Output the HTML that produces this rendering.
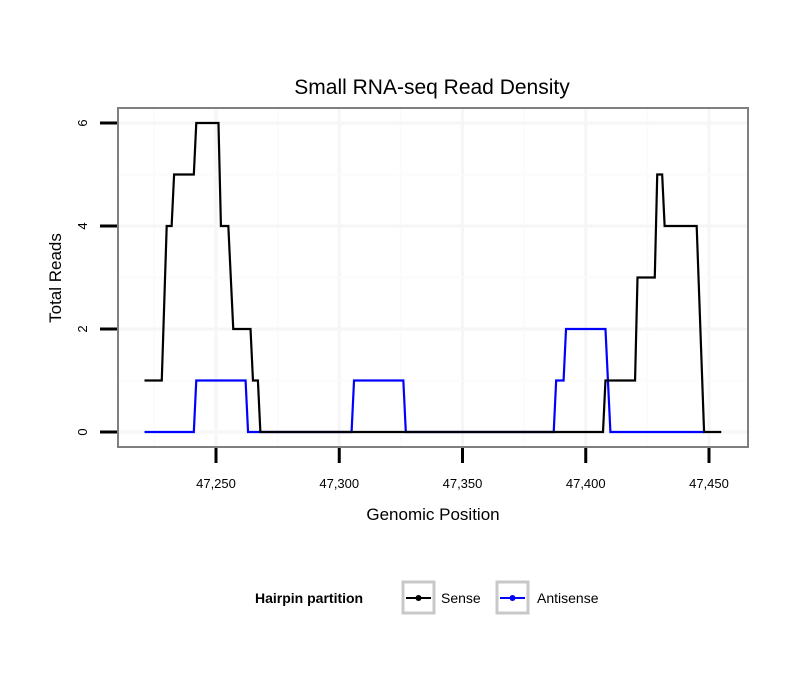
<!DOCTYPE html>
<html><head><meta charset="utf-8"><style>body{margin:0;background:#fff}svg{display:block;font-family:"Liberation Sans",sans-serif}</style></head>
<body>
<svg id="c" width="810" height="690" xmlns="http://www.w3.org/2000/svg">
<text x="432" y="94" font-size="21" text-anchor="middle">Small RNA-seq Read Density</text>
<g id="grid"></g>
<g id="series"></g>
<rect x="118" y="108" width="630" height="339" fill="none" stroke="#7f7f7f" stroke-width="2"/>
<g id="axes"></g>
<text x="433" y="520" font-size="17" text-anchor="middle">Genomic Position</text>
<text transform="translate(61,278) rotate(-90)" font-size="17" text-anchor="middle">Total Reads</text>
<g>
<text x="255" y="603" font-size="14" font-weight="bold">Hairpin partition</text>
<g>
<rect x="403" y="582" width="31" height="31" fill="#fff" stroke="#c8c8c8" stroke-width="3"/>
<line x1="406" y1="598" x2="431" y2="598" stroke="#000" stroke-width="2"/><circle cx="418.5" cy="598" r="3" fill="#000"/>
<text x="441" y="603" font-size="14">Sense</text></g>
<g>
<rect x="497" y="582" width="31" height="31" fill="#fff" stroke="#c8c8c8" stroke-width="3"/>
<line x1="500" y1="598" x2="525" y2="598" stroke="#00f" stroke-width="2"/><circle cx="512.5" cy="598" r="3" fill="#00f"/>
<text x="537" y="603" font-size="14">Antisense</text></g>
</g>
</svg>
<script>
const senseX=[47221,47228,47230,47232,47233,47241,47242,47251,47252,47255,47257,47264,47265,47267,47268,47407,47408,47420,47421,47428,47429,47431,47432,47445,47448,47455];
const senseY=[1,1,4,4,5,5,6,6,4,4,2,2,1,1,0,0,1,1,3,3,5,5,4,4,0,0];
const antiX=[47221,47241,47242,47262,47263,47305,47306,47326,47327,47387,47388,47391,47392,47408,47410,47448];
const antiY=[0,0,1,1,0,0,1,1,0,0,1,1,2,2,0,0];
const xTicks=[47250,47300,47350,47400,47450];
const xTickLabels=["47,250","47,300","47,350","47,400","47,450"];
const xMinor=[47225,47275,47325,47375,47425];
const yTicks=[0,2,4,6];
const yMinor=[1,3,5];
const NS="http://www.w3.org/2000/svg";
const sx=v=>216+(v-47250)*2.465;
const sy=v=>432-v*51.5;
function mk(t,a,p){const e=document.createElementNS(NS,t);for(const k in a)e.setAttribute(k,a[k]);p.appendChild(e);return e;}
const grid=document.getElementById('grid'),axes=document.getElementById('axes'),ser=document.getElementById('series');
xMinor.forEach(v=>{const l=mk('line',{x1:sx(v),x2:sx(v),y1:108,y2:447,stroke:'#fbfbfb','stroke-width':2},grid);

});
xTicks.forEach((v,i)=>{const l=mk('line',{x1:sx(v),x2:sx(v),y1:108,y2:447,stroke:'#f6f6f6','stroke-width':3},grid);


const t=mk('line',{x1:sx(v),x2:sx(v),y1:448,y2:463,stroke:'#000','stroke-width':3},axes);


const tx=mk('text',{x:sx(v),y:488,'font-size':13,'text-anchor':'middle'},axes);tx.textContent=xTickLabels[i];

});
yMinor.forEach(v=>{const l=mk('line',{x1:118,x2:748,y1:sy(v),y2:sy(v),stroke:'#fbfbfb','stroke-width':2},grid);

});
yTicks.forEach(v=>{const l=mk('line',{x1:118,x2:748,y1:sy(v),y2:sy(v),stroke:'#f6f6f6','stroke-width':3},grid);


const t=mk('line',{x1:100,x2:117,y1:sy(v),y2:sy(v),stroke:'#000','stroke-width':3},axes);


const tx=mk('text',{transform:`translate(87,${sy(v)}) rotate(-90)`,'font-size':13,'text-anchor':'middle'},axes);tx.textContent=v;

});
function line(X,Y,c,n){const p=mk('polyline',{points:X.map((x,i)=>sx(x)+','+sy(Y[i])).join(' '),fill:'none',stroke:c,'stroke-width':2.2},ser);

}
line(antiX,antiY,'#00f','antisense-line');
line(senseX,senseY,'#000','sense-line');
</script>
</body></html>
